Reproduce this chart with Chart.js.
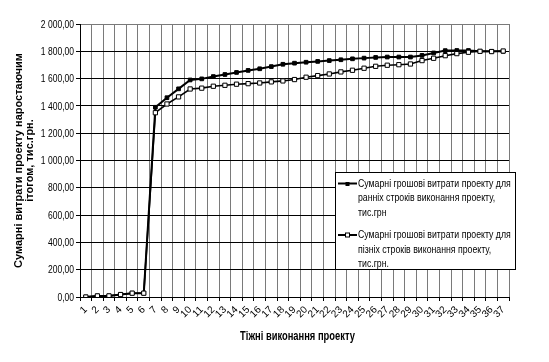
<!DOCTYPE html>
<html>
<head>
<meta charset="utf-8">
<script src="https://cdn.jsdelivr.net/npm/chart.js@4.4.1/dist/chart.umd.min.js"></script>
<style>
  html, body { margin: 0; padding: 0; background: #fff; }
  #wrap { position: relative; width: 549px; height: 362px; }
</style>
</head>
<body>
<div id="wrap"><canvas id="myChart" width="549" height="362"></canvas></div>
<script>
var weeks = ["1", "2", "3", "4", "5", "6", "7", "8", "9", "10", "11", "12", "13", "14", "15", "16", "17", "18", "19",
  "20", "21", "22", "23", "24", "25", "26", "27", "28", "29", "30", "31", "32", "33", "34", "35", "36", "37"];
var earlyCosts = [0, 8, 8, 18, 28, 28, 1390, 1460, 1525, 1590, 1598, 1615, 1630, 1645, 1660, 1672, 1688, 1705, 1713,
  1720, 1726, 1732, 1738, 1745, 1750, 1755, 1758, 1758, 1758, 1770, 1788, 1805, 1806, 1806, 1800, 1800, 1800];
var lateCosts = [0, 8, 8, 18, 28, 28, 1350, 1414, 1466, 1524, 1530, 1544, 1551, 1559, 1563, 1568, 1576, 1583, 1593,
  1610, 1622, 1634, 1649, 1661, 1676, 1690, 1698, 1702, 1707, 1732, 1749, 1768, 1783, 1793, 1800, 1798, 1802];
var earlyLabel = ["Сумарні грошові витрати проекту для", "ранніх строків виконання проекту,", "тис.грн"];
var lateLabel = ["Сумарні грошові витрати проекту для", "пізніх строків виконання проекту,", "тис.грн."];
var xTitle = "Тіжні виконання проекту";
var yTitle = ["Сумарні витрати проекту наростаючим", "ітогом, тис.грн."];

var sans = "'Liberation Sans', Arial, sans-serif";

function fmt(v) {
  var s = v.toFixed(2).replace(".", ",");
  var parts = s.split(",");
  parts[0] = parts[0].replace(/\B(?=(\d{3})+(?!\d))/g, " ");
  return parts.join(",");
}

// no narrow font installed, so squeeze text horizontally by hand
function narrowText(ctx, txt, x, y, sx, align) {
  ctx.save();
  ctx.translate(x, y);
  ctx.scale(sx, 1);
  ctx.textAlign = align;
  ctx.fillText(txt, 0, 0);
  ctx.restore();
}

var narrowLabels = {
  id: "narrowLabels",
  afterDraw: function (chart) {
    var ctx = chart.ctx;
    var ys = chart.scales.y;
    var xs = chart.scales.x;
    ctx.save();
    ctx.fillStyle = "#000";
    ctx.textBaseline = "middle";

    // y tick labels
    ctx.font = "11.5px " + sans;
    ys.ticks.forEach(function (t) {
      narrowText(ctx, fmt(t.value), ys.right - 6, ys.getPixelForValue(t.value) + 0.5, 0.74, "right");
    });

    // x title
    ctx.font = "bold 12px " + sans;
    narrowText(ctx, xTitle, (xs.left + xs.right) / 2 + 3, 337, 0.78, "center");

    // legend
    ctx.fillStyle = "#fff";
    ctx.fillRect(335.5, 172.5, 180, 97);
    ctx.strokeStyle = "#000";
    ctx.lineWidth = 1;
    ctx.strokeRect(335.5, 172.5, 180, 97);
    ctx.fillStyle = "#000";
    ctx.font = "11.5px " + sans;
    var items = [{ lines: earlyLabel, y: 183.5, filled: true }, { lines: lateLabel, y: 235, filled: false }];
    items.forEach(function (it) {
      ctx.beginPath();
      ctx.moveTo(338, it.y);
      ctx.lineTo(357, it.y);
      ctx.lineWidth = 2;
      ctx.strokeStyle = "#000";
      ctx.stroke();
      ctx.lineWidth = 1;
      if (it.filled) {
        ctx.fillRect(345.5, it.y - 1.5, 4, 4);
      } else {
        ctx.fillStyle = "#fff";
        ctx.fillRect(345.5, it.y - 2, 4, 4);
        ctx.strokeRect(345.5, it.y - 2, 4, 4);
        ctx.fillStyle = "#000";
      }
      it.lines.forEach(function (t, i) {
        narrowText(ctx, t, 358, it.y + i * 14.5, 0.76, "left");
      });
    });
    ctx.restore();
  }
};

var ctx = document.getElementById("myChart").getContext("2d");
var config = {
  type: "line",
  data: {
    labels: weeks,
    datasets: [{
      label: earlyLabel.join(" "),
      data: earlyCosts,
      borderColor: "#000",
      borderWidth: 2,
      pointStyle: "rect",
      pointRadius: 2.6,
      pointBackgroundColor: "#000",
      pointBorderColor: "#000",
      pointBorderWidth: 1,
      tension: 0,
      order: 1
    }, {
      label: lateLabel.join(" "),
      data: lateCosts,
      borderColor: "#000",
      borderWidth: 1.6,
      pointStyle: "rect",
      pointRadius: 3,
      pointBackgroundColor: "#fff",
      pointBorderColor: "#000",
      pointBorderWidth: 1,
      tension: 0,
      order: 0
    }]
  },
  options: {
    responsive: false,
    animation: false,
    layout: { padding: { left: 0, right: 40, top: 24, bottom: 0 } },
    plugins: {
      legend: { display: false },
      tooltip: { enabled: false }
    },
    scales: {
      x: {
        offset: true,
        grid: { offset: true, color: "#7a7a7a", tickLength: 4, tickColor: "#000" },
        border: { color: "#000" },
        ticks: {
          autoSkip: false, minRotation: 45, maxRotation: 45, padding: 3,
          color: "#000", font: { family: sans, size: 10 }
        },
        afterFit: function (scale) { scale.height = 65; }
      },
      y: {
        min: 0, max: 2000,
        grid: {
          color: function (c) { return c.tick && c.tick.value === 2000 ? "#7a7a7a" : "#000"; },
          tickLength: 4, tickColor: "#000"
        },
        border: { color: "#000" },
        ticks: { stepSize: 200, display: false },
        title: {
          display: true, text: yTitle, color: "#000",
          font: { family: sans, size: 11, weight: "bold", lineHeight: 1.05 },
          padding: { top: 13, bottom: 0 }
        },
        afterFit: function (scale) { scale.width = 80; }
      }
    }
  },
  plugins: [narrowLabels]
};

var myChart = new Chart(ctx, config);
</script>
</body>
</html>
